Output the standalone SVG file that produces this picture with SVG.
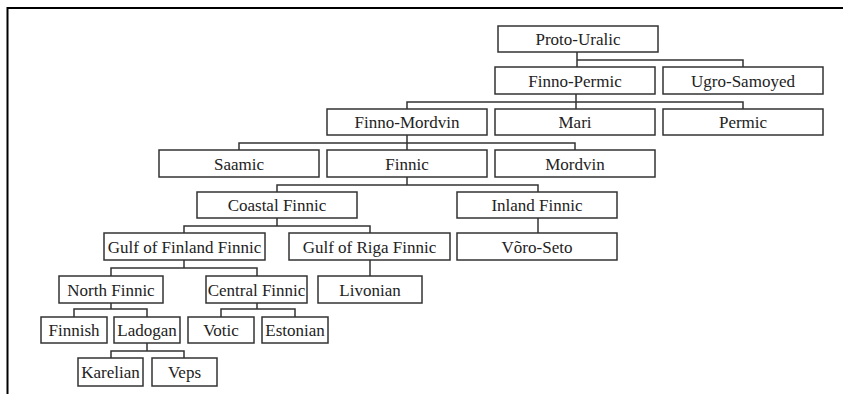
<svg xmlns="http://www.w3.org/2000/svg" width="843" height="394" viewBox="0 0 843 394">
<style>
.box rect{fill:#fff;stroke:#333;stroke-width:1.5}
.box text{font-family:"Liberation Serif","Times New Roman",serif;font-size:17px;fill:#222;text-anchor:middle}
.conn path{fill:none;stroke:#333;stroke-width:1.5}
</style>
<rect width="843" height="394" fill="#fff"/>
<path d="M7.5,394 V8 H843" fill="none" stroke="#000" stroke-width="2"/>
<g class="conn">
<path d="M577,52 V67 M577,60 H743 V67"/>
<path d="M576,94 V109 M407,109 V102 H743 V109"/>
<path d="M407,135 V150 M239,150 V143 H575 V150"/>
<path d="M407,177 V185 M277,192 V185 H538 V192"/>
<path d="M277,218 V226 M184,233 V226 H370 V233"/>
<path d="M538,218 V233"/>
<path d="M184,260 V268 M111,276 V268 H257 V276"/>
<path d="M370,260 V276"/>
<path d="M111,303 V309 M74,317 V309 H147 V317"/>
<path d="M257,303 V309 M221,317 V309 H295 V317"/>
<path d="M147,343 V351 M111,358 V351 H184 V358"/>
</g>
<g id="proto-uralic" class="box"><rect x="498" y="26" width="160" height="26"/><text x="578" y="45">Proto-Uralic</text></g>
<g id="finno-permic" class="box"><rect x="495" y="67" width="160" height="27"/><text x="575" y="86.5">Finno-Permic</text></g>
<g id="ugro-samoyed" class="box"><rect x="663" y="67" width="160" height="27"/><text x="743" y="86.5">Ugro-Samoyed</text></g>
<g id="finno-mordvin" class="box"><rect x="327" y="109" width="160" height="26"/><text x="407" y="128">Finno-Mordvin</text></g>
<g id="mari" class="box"><rect x="495" y="109" width="160" height="26"/><text x="575" y="128">Mari</text></g>
<g id="permic" class="box"><rect x="663" y="109" width="160" height="26"/><text x="743" y="128">Permic</text></g>
<g id="saamic" class="box"><rect x="159" y="150" width="160" height="27"/><text x="239" y="169.5">Saamic</text></g>
<g id="finnic" class="box"><rect x="327" y="150" width="160" height="27"/><text x="407" y="169.5">Finnic</text></g>
<g id="mordvin" class="box"><rect x="495" y="150" width="160" height="27"/><text x="575" y="169.5">Mordvin</text></g>
<g id="coastal-finnic" class="box"><rect x="197" y="192" width="160" height="26"/><text x="277" y="211">Coastal Finnic</text></g>
<g id="inland-finnic" class="box"><rect x="457" y="192" width="160" height="26"/><text x="537" y="211">Inland Finnic</text></g>
<g id="gulf-of-finland-finnic" class="box"><rect x="104" y="233" width="161" height="27"/><text x="184.5" y="252.5">Gulf of Finland Finnic</text></g>
<g id="gulf-of-riga-finnic" class="box"><rect x="289" y="233" width="161" height="27"/><text x="369.5" y="252.5">Gulf of Riga Finnic</text></g>
<g id="voro-seto" class="box"><rect x="457" y="233" width="160" height="27"/><text x="537" y="252.5">Võro-Seto</text></g>
<g id="north-finnic" class="box"><rect x="59" y="276" width="104" height="27"/><text x="111" y="295.5">North Finnic</text></g>
<g id="central-finnic" class="box"><rect x="206" y="276" width="101" height="27"/><text x="256.5" y="295.5">Central Finnic</text></g>
<g id="livonian" class="box"><rect x="318" y="276" width="104" height="27"/><text x="370" y="295.5">Livonian</text></g>
<g id="finnish" class="box"><rect x="41" y="317" width="66" height="26"/><text x="74" y="336">Finnish</text></g>
<g id="ladogan" class="box"><rect x="114" y="317" width="66" height="26"/><text x="147" y="336">Ladogan</text></g>
<g id="votic" class="box"><rect x="188" y="317" width="66" height="26"/><text x="221" y="336">Votic</text></g>
<g id="estonian" class="box"><rect x="262" y="317" width="66" height="26"/><text x="295" y="336">Estonian</text></g>
<g id="karelian" class="box"><rect x="78" y="358" width="65" height="28"/><text x="110.5" y="378">Karelian</text></g>
<g id="veps" class="box"><rect x="152" y="358" width="65" height="28"/><text x="184.5" y="378">Veps</text></g>
</svg>
